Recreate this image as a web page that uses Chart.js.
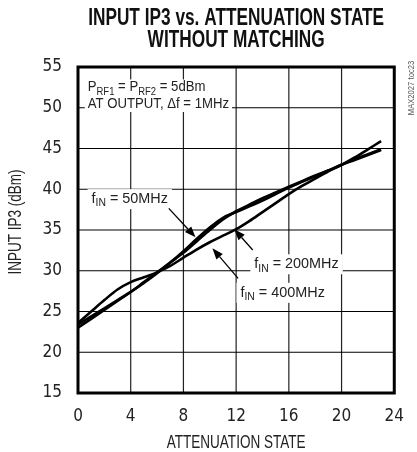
<!DOCTYPE html>
<html><head><meta charset="utf-8">
<script src="https://cdn.jsdelivr.net/npm/chart.js@4/dist/chart.umd.min.js"></script>
<style>html,body{margin:0;padding:0;background:#fff}#wrap{width:417px;height:452px}</style>
</head><body><div id="wrap"><canvas id="c" width="417" height="452"></canvas></div>
<script>
// ---- data ----
const attenuationState = [0,1,2,3,4,5,6,7,8,9,10,11,12,13,14,15,16,17,18,19,20,21,22,23];
const ip3_50MHz  = [23.4,24.4,25.4,26.4,27.4,28.5,29.7,31.0,32.4,33.9,35.3,36.5,37.2,37.9,38.6,39.4,40.2,40.9,41.6,42.3,43.0,43.6,44.2,44.8];
const ip3_200MHz = [23.0,24.1,25.2,26.3,27.4,28.6,29.8,31.0,32.2,33.6,35.0,36.3,37.3,38.1,38.9,39.6,40.3,41.0,41.7,42.3,43.0,43.7,44.3,44.9];
const ip3_400MHz = [23.6,25.0,26.4,27.7,28.6,29.2,29.8,30.6,31.6,32.6,33.5,34.3,35.1,36.1,37.2,38.3,39.4,40.4,41.3,42.2,43.0,43.9,44.9,45.9];
const xTickValues = [0,4,8,12,16,20,24];
const yTickValues = [15,20,25,30,35,40,45,50,55];
const seriesNames = ['50MHz','200MHz','400MHz'];

// ---- annotations (in data units) ----
const labelAnchors = [ // [name, x, y]
  ['50MHz', 1.03, 38.3],
  ['200MHz', 13.38, 30.3],
  ['400MHz', 12.33, 26.8]
];
const arrows = [ // [x1,y1,x2(tip),y2(tip)]
  [6.89, 37.66, 8.92, 34.1],
  [13.26, 32.55, 11.86, 35.09],
  [12.15, 29.07, 10.2, 32.75]
];

const SANS = '"Liberation Sans", Arial, sans-serif';
const NARROW = '"Liberation Sans Narrow", "Arial Narrow", "DejaVu Sans Condensed", sans-serif';

function pts(ys){ return attenuationState.map((x,i)=>({x:x,y:ys[i]})); }

function drawScaled(ctx, text, x, y, font, sx, align){
  ctx.save(); ctx.font = font; ctx.textBaseline='alphabetic'; ctx.textAlign='left';
  const w = ctx.measureText(text).width*sx;
  const x0 = align==='center' ? x-w/2 : (align==='right' ? x-w : x);
  ctx.translate(x0,y); ctx.scale(sx,1); ctx.fillText(text,0,0); ctx.restore();
  return w;
}
function fitScale(ctx, text, font, target){ ctx.font = font; return target/ctx.measureText(text).width; }

function richWidth(ctx, parts, size, sx){
  let w=0;
  for(const [t,sub] of parts){ ctx.font = (sub? size*0.72 : size)+'px '+SANS; w += ctx.measureText(t).width*sx; }
  return w;
}
function drawRich(ctx, parts, x, y, size, sx){
  let cx = x;
  for(const [t,sub] of parts){
    const f = (sub? size*0.72 : size)+'px '+SANS;
    cx += drawScaled(ctx, t, cx, y + (sub? size*0.22 : 0), f, sx, 'left');
  }
  return cx - x;
}

const decor = {
  id:'decor',
  beforeDatasetsDraw(chart){
    const ctx = chart.ctx, xs = chart.scales.x, ys = chart.scales.y, a = chart.chartArea;
    ctx.save();
    // grid
    ctx.lineWidth = 1.2;
    ctx.strokeStyle = '#222';
    for(const v of xTickValues){
      const X = xs.getPixelForValue(v);
      ctx.beginPath(); ctx.moveTo(X,a.top); ctx.lineTo(X,a.bottom); ctx.stroke();
    }
    ctx.strokeStyle = '#000';
    for(const v of yTickValues){
      const Y = ys.getPixelForValue(v);
      ctx.beginPath(); ctx.moveTo(a.left,Y); ctx.lineTo(a.right,Y); ctx.stroke();
    }
    ctx.fillStyle = '#222';
    const l1 = [['P',0],['RF1',1],[' = P',0],['RF2',1],[' = 5dBm',0]];
    const l2 = [['AT OUTPUT, \u0394f = 1MHz',0]];
    const px = xs.getPixelForValue(0.74);
    const b1 = ys.getPixelForValue(52.0), b2 = ys.getPixelForValue(49.97);
    const s = 14, sx = 0.94;
    const w1 = richWidth(ctx,l1,s,sx), w2 = richWidth(ctx,l2,s,sx);
    ctx.fillStyle='#fff';
    ctx.fillRect(px-3, b1-12, Math.max(w1,w2)+6, b2-b1+16);
    ctx.fillStyle='#222';
    drawRich(ctx,l1,px,b1,s,sx);
    drawRich(ctx,l2,px,b2,s,sx);
    for(const [name,xv,yv] of labelAnchors){
      const parts = [['f',0],['IN',1],[' = '+name,0]];
      const lx = xs.getPixelForValue(xv), ly = ys.getPixelForValue(yv);
      const fs = 15, fsx = 0.96;
      const w = richWidth(ctx,parts,fs,fsx);
      ctx.fillStyle='#fff';
      ctx.fillRect(lx-4, ly-14, w+8, 20);
      ctx.fillStyle='#222';
      drawRich(ctx,parts,lx,ly,fs,fsx);
    }
    ctx.restore();
  },
  afterDatasetsDraw(chart){
    const ctx = chart.ctx, xs = chart.scales.x, ys = chart.scales.y, a = chart.chartArea;
    ctx.save();
    ctx.strokeStyle='#000'; ctx.fillStyle='#000'; ctx.lineWidth=1.3;
    for(const [x1,y1,x2,y2] of arrows){
      const X1=xs.getPixelForValue(x1), Y1=ys.getPixelForValue(y1);
      const X2=xs.getPixelForValue(x2), Y2=ys.getPixelForValue(y2);
      const ang = Math.atan2(Y2-Y1, X2-X1), L=11, W=4.2;
      const bx = X2 - L*Math.cos(ang), by = Y2 - L*Math.sin(ang);
      ctx.beginPath(); ctx.moveTo(X1,Y1); ctx.lineTo(bx,by); ctx.stroke();
      ctx.beginPath(); ctx.moveTo(X2,Y2);
      ctx.lineTo(bx + W*Math.sin(ang), by - W*Math.cos(ang));
      ctx.lineTo(bx - W*Math.sin(ang), by + W*Math.cos(ang));
      ctx.closePath(); ctx.fill();
    }
    ctx.lineWidth=3; ctx.strokeStyle='#000';
    ctx.strokeRect(a.left, a.top, a.right-a.left, a.bottom-a.top);
    ctx.restore();
  },
  afterDraw(chart){
    const ctx = chart.ctx, a = chart.chartArea;
    ctx.save(); ctx.fillStyle='#111';
    const t1 = 'INPUT IP3 vs. ATTENUATION STATE', t2 = 'WITHOUT MATCHING';
    const tf = 'bold 23px '+SANS;
    const tsx = fitScale(ctx,t1,tf,296);
    const cx = (a.left+a.right)/2;
    drawScaled(ctx,t1,cx,25,tf,tsx,'center');
    drawScaled(ctx,t2,cx,47,tf,tsx,'center');
    ctx.fillStyle='#222';
    const xf = '19px '+SANS;
    drawScaled(ctx,'ATTENUATION STATE',cx,448,xf,fitScale(ctx,'ATTENUATION STATE',xf,139),'center');
    ctx.save(); ctx.translate(21,222); ctx.rotate(-Math.PI/2);
    const yf = '18px '+SANS;
    drawScaled(ctx,'INPUT IP3 (dBm)',0,0,yf,fitScale(ctx,'INPUT IP3 (dBm)',yf,105),'center');
    ctx.restore();
    ctx.save(); ctx.translate(414,88); ctx.rotate(-Math.PI/2); ctx.fillStyle='#555';
    drawScaled(ctx,'MAX2027 toc23',0,0,'9px '+SANS,0.85,'center');
    ctx.restore();
    ctx.restore();
  }
};

const lineStyle = {borderColor:'#000', borderWidth:2.6, pointRadius:0, tension:0.4, cubicInterpolationMode:'monotone', fill:false};

new Chart(document.getElementById('c'), {
  type:'line',
  data:{ datasets:[
    Object.assign({label:seriesNames[0], data:pts(ip3_50MHz)}, lineStyle),
    Object.assign({label:seriesNames[1], data:pts(ip3_200MHz)}, lineStyle),
    Object.assign({label:seriesNames[2], data:pts(ip3_400MHz)}, lineStyle)
  ]},
  options:{
    responsive:false, animation:false, devicePixelRatio:1,
    layout:{padding:{top:67,right:13,bottom:0,left:0}},
    plugins:{legend:{display:false}, title:{display:false}, tooltip:{enabled:false}},
    scales:{
      x:{type:'linear', min:xTickValues[0], max:xTickValues[xTickValues.length-1],
        afterFit(s){ s.height = 59; },
        grid:{display:false, drawTicks:false},
        border:{display:false},
        ticks:{stepSize:xTickValues[1]-xTickValues[0], padding:13, color:'#222', font:{family:NARROW, size:17}}
      },
      y:{type:'linear', min:yTickValues[0], max:yTickValues[yTickValues.length-1],
        afterFit(s){ s.width = 78; },
        grid:{display:false, drawTicks:false},
        border:{display:false},
        ticks:{stepSize:yTickValues[1]-yTickValues[0], padding:16, color:'#222', font:{family:NARROW, size:17}}
      }
    }
  },
  plugins:[decor]
});
</script></body></html>
